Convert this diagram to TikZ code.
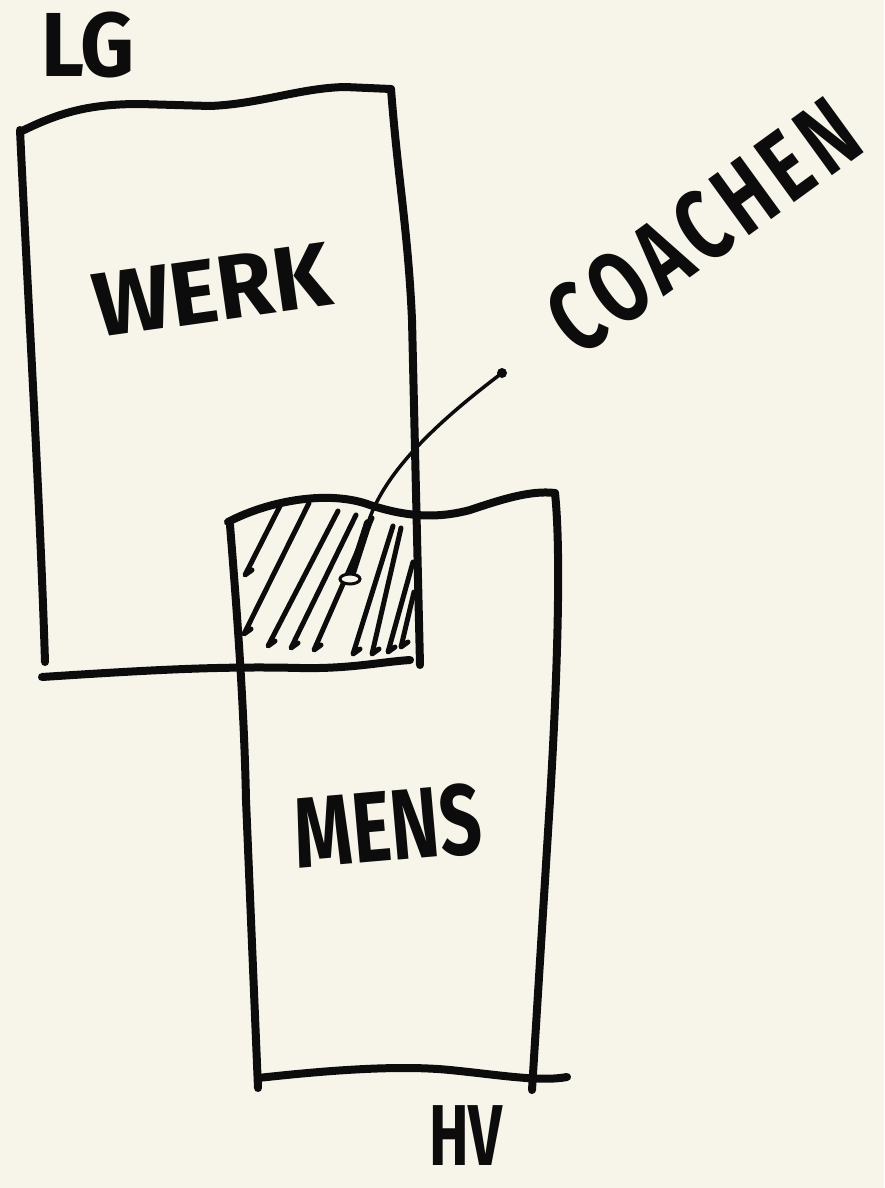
\documentclass[tikz,border=0pt]{standalone}
\usepackage{fontspec}
\setmainfont{Fira Sans}
\definecolor{paper}{RGB}{247,245,234}
\definecolor{ink}{RGB}{12,12,12}
\tikzset{
    pen/.style={ink,line width=8pt,line cap=round,line join=round},
    hatchline/.style={ink,line width=5pt,line cap=round,line join=round},
    hand/.style={ink,font=\fontsize{70}{70}\selectfont\bfseries,inner sep=0pt,
        yscale=1.3,transform shape},
}
\begin{document}
\begin{tikzpicture}[x=1pt,y=-1pt]
    % paper
    \fill[paper] (0,0) rectangle (884,1188);
    \useasboundingbox (0,0) rectangle (884,1188);
    % hatching of the overlap
    \foreach \bx/\by/\tx/\ty in {245/575/281/504, 244/634/309/503,
        268/646/338/511, 291/648/356/515, 314/650/372/518,
        353/654/393/526, 372/654/401/528, 388/652/413/562, 401/647/414/592}
        \draw[hatchline] (\tx,\ty) -- (\bx,\by) -- ++(7,-5);
    % box werk
    \draw[pen] (20,132) .. controls (60,112) and (90,104) .. (140,104)
        -- (210,106) .. controls (260,104) and (300,88) .. (345,87) -- (391,89);
    \draw[pen] (391,89) .. controls (398,180) and (408,230) .. (412,320)
        -- (420,665);
    \draw[pen] (20,130) .. controls (28,300) and (40,500) .. (45,662);
    \draw[pen] (42,677) .. controls (150,670) and (220,666) .. (300,668)
        .. controls (350,669) and (380,662) .. (410,660);
    % box mens
    \draw[pen] (228,522) .. controls (270,500) and (330,490) .. (370,505)
        .. controls (410,518) and (440,518) .. (470,510)
        .. controls (500,500) and (530,490) .. (555,493);
    \draw[pen] (555,493) .. controls (562,560) and (556,700) .. (550,800)
        -- (532,1090);
    \draw[pen] (230,525) .. controls (236,600) and (244,700) .. (246,800)
        -- (258,1088);
    \draw[pen] (258,1078) .. controls (330,1070) and (400,1065) .. (450,1070)
        .. controls (500,1075) and (540,1082) .. (567,1077);
    % labels
    \node[hand,xscale=1.2] (lg) at (88,45) {LG};
    \node[rotate=8,hand,xscale=1.3] (werk) at (212,290) {WERK};
    \node[rotate=5,hand,xscale=1.05,yscale=1.1] (mens) at (388,826) {MENS};
    \node[hand,xscale=0.85,yscale=0.95] (hv) at (466,1136) {HV};
    \node[rotate=36,hand,xscale=1.05,yscale=1.1] (coachen) at (703,226)
        {\addfontfeature{LetterSpace=10}COACHEN};
    % pointer to the overlap
    \coordinate (pin) at (502,373);
    \coordinate (bend) at (368,523);
    \coordinate (tip) at (350,579);
    \fill[ink] (pin) circle (5);
    \draw[ink,line width=3.5pt,line cap=round] (pin)
        .. controls (440,420) and (385,470) .. (bend);
    \draw[ink,line width=8pt,line cap=round] (bend) -- (tip);
    \draw[ink,line width=3pt,fill=paper] (tip) ellipse (10 and 5);
\end{tikzpicture}
\end{document}
